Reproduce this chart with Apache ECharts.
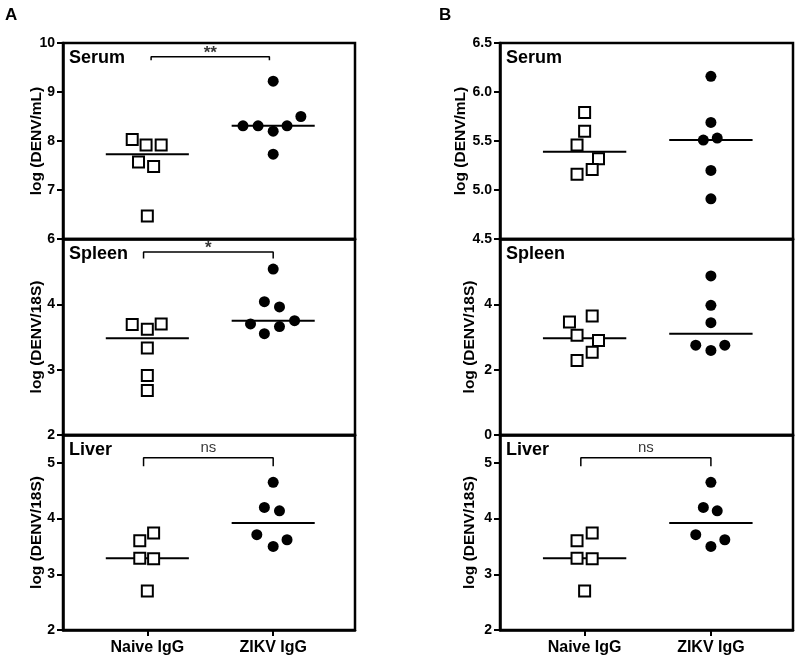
<!DOCTYPE html>
<html>
<head>
<meta charset="utf-8">
<script src="https://cdn.jsdelivr.net/npm/echarts@6/dist/echarts.min.js"></script>
<style>html,body{margin:0;padding:0;background:#fff}#c{width:800px;height:663px}</style>
</head>
<body>
<div id="c"></div>
<script>
// ---------- data ----------
const categories = ['Naive IgG', 'ZIKV IgG'];
const panelTitles = ['Serum', 'Spleen', 'Liver'];
const yNames = ['log (DENV/mL)', 'log (DENV/18S)', 'log (DENV/18S)'];

// Panel A
const serumA_naive = [8.03, 7.92, 7.92, 7.57, 7.48, 6.47];
const serumA_naiveJit = [-0.12, -0.01, 0.11, -0.07, 0.05, 0];
const serumA_zikv = [8.31, 8.31, 8.20, 8.31, 8.50, 9.22, 7.73];
const serumA_zikvJit = [-0.24, -0.12, 0, 0.11, 0.22, 0, 0];
const serumA_medians = [7.73, 8.31];

const spleenA_naive = [3.69, 3.62, 3.70, 3.33, 2.91, 2.68];
const spleenA_naiveJit = [-0.12, 0, 0.11, 0, 0, 0];
const spleenA_zikv = [4.54, 4.04, 3.96, 3.70, 3.66, 3.75, 3.55];
const spleenA_zikvJit = [0, -0.07, 0.05, -0.18, 0.05, 0.17, -0.07];
const spleenA_medians = [3.48, 3.75];

const liverA_naive = [3.60, 3.74, 3.29, 3.28, 2.70];
const liverA_naiveJit = [-0.06, 0.05, -0.06, 0.05, 0];
const liverA_zikv = [4.65, 4.20, 4.14, 3.71, 3.50, 3.62];
const liverA_zikvJit = [0, -0.07, 0.05, -0.13, 0, 0.11];
const liverA_medians = [3.29, 3.92];

// Panel B
const serumB_naive = [5.79, 5.60, 5.46, 5.32, 5.21, 5.16];
const serumB_naiveJit = [0, 0, -0.06, 0.11, 0.06, -0.06];
const serumB_zikv = [6.16, 5.69, 5.51, 5.53, 5.20, 4.91];
const serumB_zikvJit = [0, 0, -0.06, 0.05, 0, 0];
const serumB_medians = [5.39, 5.51];

const spleenB_naive = [3.46, 3.64, 3.05, 2.89, 2.53, 2.28];
const spleenB_naiveJit = [-0.12, 0.06, -0.06, 0.11, 0.06, -0.06];
const spleenB_zikv = [4.87, 3.97, 3.44, 2.75, 2.59, 2.75];
const spleenB_zikvJit = [0, 0, 0, -0.12, 0, 0.11];
const spleenB_medians = [2.96, 3.10];

const liverB_naive = [3.60, 3.74, 3.29, 3.28, 2.70];
const liverB_naiveJit = [-0.06, 0.06, -0.06, 0.06, 0];
const liverB_zikv = [4.65, 4.20, 4.14, 3.71, 3.50, 3.62];
const liverB_zikvJit = [0, -0.06, 0.05, -0.12, 0, 0.11];
const liverB_medians = [3.29, 3.92];

// y-axis ranges / ticks
const yMinA = [6, 2, 2], yMaxA = [10, 5, 5.5], yIntA = [1, 1, 1];
const yMinB = [4.5, 0, 2], yMaxB = [6.5, 6, 5.5], yIntB = [0.5, 2, 1];

// significance annotations: [panelIndex, label, xStart, xEnd, yTop, yBottom]
const sigA = [
  [0, '**', 0.03, 0.97, 9.72, 9.65],
  [1, '*', -0.03, 1.0, 4.80, 4.70],
  [2, 'ns', -0.03, 1.0, 5.09, 4.94]
];
const sigB = [
  [2, 'ns', -0.03, 1.0, 5.09, 4.94]
];

// ---------- chart ----------
const FONT = '"Liberation Sans", Arial, Helvetica, sans-serif';
const xMin = -0.67, xMax = 1.65, medHalf = 0.33;
const panelTops = [43, 239, 435], panelHeights = [196, 196, 195];
const colLeft = [63, 500], colRight = [445, 7];
const nameGaps = [[18, 18, 18], [31, 22, 22]];

const cols = [
  {
    naive: [serumA_naive, spleenA_naive, liverA_naive],
    naiveJit: [serumA_naiveJit, spleenA_naiveJit, liverA_naiveJit],
    zikv: [serumA_zikv, spleenA_zikv, liverA_zikv],
    zikvJit: [serumA_zikvJit, spleenA_zikvJit, liverA_zikvJit],
    med: [serumA_medians, spleenA_medians, liverA_medians],
    yMin: yMinA, yMax: yMaxA, yInt: yIntA, sig: sigA, decimals: [0, 0, 0]
  },
  {
    naive: [serumB_naive, spleenB_naive, liverB_naive],
    naiveJit: [serumB_naiveJit, spleenB_naiveJit, liverB_naiveJit],
    zikv: [serumB_zikv, spleenB_zikv, liverB_zikv],
    zikvJit: [serumB_zikvJit, spleenB_zikvJit, liverB_zikvJit],
    med: [serumB_medians, spleenB_medians, liverB_medians],
    yMin: yMinB, yMax: yMaxB, yInt: yIntB, sig: sigB, decimals: [1, 0, 0]
  }
];

const grid = [], xAxis = [], yAxis = [], series = [], title = [];
title.push({text: 'A', left: 5, top: 7, padding: 0, textStyle: {fontFamily: FONT, fontSize: 17, fontWeight: 'bold', color: '#000'}});
title.push({text: 'B', left: 439, top: 7, padding: 0, textStyle: {fontFamily: FONT, fontSize: 17, fontWeight: 'bold', color: '#000'}});

cols.forEach((col, c) => {
  for (let p = 0; p < 3; p++) {
    const gi = grid.length;
    const isBottom = p === 2;
    grid.push({
      left: colLeft[c], right: colRight[c], top: panelTops[p], height: panelHeights[p],
      show: true, borderColor: '#000', borderWidth: 2.5, backgroundColor: 'transparent'
    });
    title.push({
      text: panelTitles[p], left: colLeft[c] + 6, top: panelTops[p] + 6, padding: 0,
      textStyle: {fontFamily: FONT, fontSize: 18, fontWeight: 'bold', color: '#000'}
    });
    xAxis.push({
      type: 'value', gridIndex: gi, min: xMin, max: xMax,
      splitLine: {show: false},
      axisLine: {show: true, onZero: false, lineStyle: {color: '#000', width: 2.5}},
      axisTick: {show: isBottom, customValues: [0, 1], length: 6, lineStyle: {color: '#000', width: 2}},
      axisLabel: {show: isBottom, customValues: [0, 1], margin: 10,
        formatter: v => categories[Math.round(v)],
        fontFamily: FONT, fontSize: 16, fontWeight: 'bold', color: '#000'}
    });
    const dec = col.decimals[p];
    yAxis.push({
      type: 'value', gridIndex: gi, min: col.yMin[p], max: col.yMax[p], interval: col.yInt[p],
      name: yNames[p], nameLocation: 'middle', nameGap: nameGaps[c][p], nameMoveOverlap: false,
      nameTextStyle: {fontFamily: FONT, fontSize: 15.5, fontWeight: 'bold', color: '#000'},
      splitLine: {show: false},
      axisLine: {show: true, onZero: false, lineStyle: {color: '#000', width: 2.5}},
      axisTick: {show: true, length: 6, lineStyle: {color: '#000', width: 2}},
      axisLabel: {margin: 8, showMaxLabel: p === 0, showMinLabel: true,
        formatter: v => Number(v).toFixed(dec),
        fontFamily: FONT, fontSize: 14, fontWeight: 'bold', color: '#000'}
    });
    // median lines
    col.med[p].forEach((m, k) => {
      series.push({
        type: 'line', xAxisIndex: gi, yAxisIndex: gi, symbol: 'none', silent: true, z: 2,
        lineStyle: {color: '#000', width: 2},
        data: [[k - medHalf, m], [k + medHalf, m]]
      });
    });
    // naive: open squares
    series.push({
      type: 'scatter', xAxisIndex: gi, yAxisIndex: gi, symbol: 'rect', symbolSize: 11, z: 3,
      itemStyle: {color: '#fff', borderColor: '#000', borderWidth: 2, opacity: 1},
      data: col.naive[p].map((v, i) => [0 + col.naiveJit[p][i], v])
    });
    // ZIKV: filled circles
    series.push({
      type: 'scatter', xAxisIndex: gi, yAxisIndex: gi, symbol: 'circle', symbolSize: 11, z: 3,
      itemStyle: {color: '#000', opacity: 1},
      data: col.zikv[p].map((v, i) => [1 + col.zikvJit[p][i], v])
    });
  }
  // significance brackets
  col.sig.forEach(s => {
    const gi = c * 3 + s[0];
    const isNs = s[1] === 'ns';
    series.push({
      type: 'line', xAxisIndex: gi, yAxisIndex: gi, symbol: 'none', silent: true, z: 2,
      lineStyle: {color: '#000', width: 1.5},
      data: [[s[2], s[5]], [s[2], s[4]], [s[3], s[4]], [s[3], s[5]]]
    });
    series.push({
      type: 'scatter', xAxisIndex: gi, yAxisIndex: gi, symbolSize: 0, silent: true,
      itemStyle: {color: 'transparent'},
      label: {show: true, position: 'top', distance: isNs ? 2 : -5, formatter: s[1],
        fontFamily: FONT, fontSize: isNs ? 15 : 17, fontWeight: isNs ? 'normal' : 'bold', color: '#000'},
      data: [[(s[2] + s[3]) / 2, s[4]]]
    });
  });
});

const chart = echarts.init(document.getElementById('c'), null, {renderer: 'canvas'});
chart.setOption({
  animation: false,
  backgroundColor: '#fff',
  title, grid, xAxis, yAxis, series
});
</script>
</body>
</html>
